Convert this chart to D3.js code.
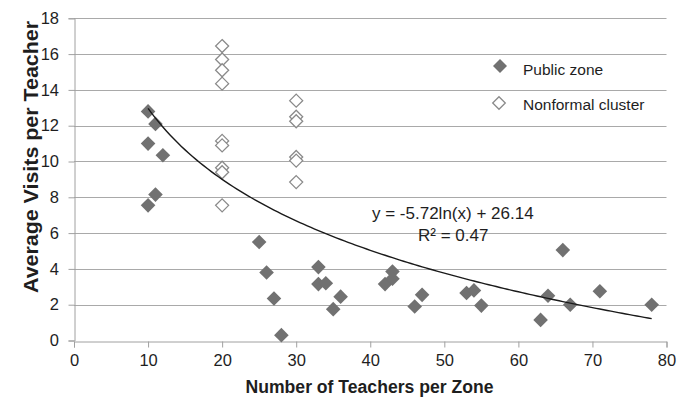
<!DOCTYPE html>
<html>
<head>
<meta charset="utf-8">
<script src="https://cdn.jsdelivr.net/npm/d3@7"></script>
<style>
  html, body { margin: 0; padding: 0; background: #fff; }
  svg { display: block; font-family: "Liberation Sans", Arial, sans-serif; }
</style>
</head>
<body>
<svg id="chart" width="686" height="397"></svg>
<script>
// ---- data ----
const publicX = [10, 11, 10, 12, 11, 10, 25, 26, 27, 28, 33, 33, 34, 36, 35, 42, 43, 43, 46, 47, 53, 54, 55, 63, 64, 66, 67, 71, 78];
const publicY = [12.8, 12.1, 11.0, 10.35, 8.15, 7.55, 5.5, 3.8, 2.35, 0.3, 4.1, 3.15, 3.2, 2.45, 1.75, 3.15, 3.85, 3.45, 1.9, 2.55, 2.65, 2.8, 1.95, 1.15, 2.5, 5.05, 2.0, 2.75, 2.0];
const nonformalX = [20, 20, 20, 20, 20, 20, 20, 20, 20, 30, 30, 30, 30, 30, 30];
const nonformalY = [16.45, 15.7, 15.1, 14.35, 11.15, 10.9, 9.65, 9.4, 7.55, 13.4, 12.5, 12.25, 10.25, 10.05, 8.85];
const xTicks = [0, 10, 20, 30, 40, 50, 60, 70, 80];
const yTicks = [0, 2, 4, 6, 8, 10, 12, 14, 16, 18];
const trendCoef = [-5.72, 26.14];   // y = a ln(x) + b
const trendRange = [10, 78];
const seriesNames = ["Public zone", "Nonformal cluster"];
const trendLabels = ["y = -5.72ln(x) + 26.14", "R\u00B2 = 0.47"];
const axisTitles = ["Number of Teachers per Zone", "Average Visits per Teacher"];

// ---- drawing ----
const svg = d3.select("#chart");
const x = d3.scaleLinear().domain([0, 80]).range([74, 666.5]);
const y = d3.scaleLinear().domain([0, 18]).range([340.5, 18.3]);

const gridColor = "#a9a9a9";
const axisColor = "#a0a0a0";
const textColor = "#1e1e1e";
const fam = "Liberation Sans, Arial, sans-serif";

// gridlines
svg.append("g").selectAll("line").data(yTicks.filter(d => d > 0)).join("line")
  .attr("x1", x(0)).attr("x2", x(80))
  .attr("y1", d => Math.round(y(d)) + 0.5).attr("y2", d => Math.round(y(d)) + 0.5)
  .attr("stroke", gridColor).attr("stroke-width", 1);

// y axis
const yAxis = d3.axisLeft(y).tickValues(yTicks).tickSize(6).tickPadding(9.5).tickFormat(d3.format("d"));
const gy = svg.append("g").attr("transform", `translate(${Math.round(x(0)) + 0.5},0)`).call(yAxis);
gy.select(".domain").attr("stroke", axisColor);
gy.selectAll(".tick line").attr("stroke", axisColor);
gy.selectAll(".tick text").attr("fill", textColor).style("font-size", "16.5px").style("font-family", fam);

// x axis
const xAxis = d3.axisBottom(x).tickValues(xTicks).tickSize(6).tickPadding(7).tickFormat(d3.format("d"));
const gx = svg.append("g").attr("transform", `translate(0,${Math.round(y(0)) + 0.5})`).call(xAxis);
gx.select(".domain").attr("stroke", axisColor);
gx.selectAll(".tick line").attr("stroke", axisColor);
gx.selectAll(".tick text").attr("fill", textColor).style("font-size", "16.5px").style("font-family", fam);

// axis titles
svg.append("text").attr("x", 369.5).attr("y", 393).attr("text-anchor", "middle")
  .attr("textLength", 248).attr("lengthAdjust", "spacingAndGlyphs")
  .attr("fill", textColor).style("font-size", "18px").style("font-weight", "bold")
  .text(axisTitles[0]);
svg.append("text").attr("transform", "translate(38,157) rotate(-90)").attr("text-anchor", "middle")
  .attr("textLength", 272).attr("lengthAdjust", "spacingAndGlyphs")
  .attr("fill", textColor).style("font-size", "20px").style("font-weight", "bold")
  .text(axisTitles[1]);

// diamond path
const diamond = r => `M0,${-r}L${r},0L0,${r}L${-r},0Z`;

// nonformal (open diamonds)
svg.append("g").selectAll("path").data(nonformalX.map((d, i) => [d, nonformalY[i]])).join("path")
  .attr("transform", d => `translate(${x(d[0])},${y(d[1])})`)
  .attr("d", diamond(6.5))
  .attr("fill", "#fff").attr("stroke", "#8a8a8a").attr("stroke-width", 1.3);

// public (filled diamonds)
svg.append("g").selectAll("path").data(publicX.map((d, i) => [d, publicY[i]])).join("path")
  .attr("transform", d => `translate(${x(d[0])},${y(d[1])})`)
  .attr("d", diamond(7.3))
  .attr("fill", "#717171");

// trend line (from the equation shown on the chart)
const trendXs = d3.range(trendRange[0], trendRange[1] + 0.001, 0.5);
const line = d3.line().x(d => x(d)).y(d => y(trendCoef[0] * Math.log(d) + trendCoef[1]));
svg.append("path").datum(trendXs).attr("d", line)
  .attr("fill", "none").attr("stroke", "#1a1a1a").attr("stroke-width", 1.4);

// trend labels
svg.append("text").attr("x", 372).attr("y", 219).attr("fill", textColor).style("font-size", "17px").text(trendLabels[0]);
svg.append("text").attr("x", 418).attr("y", 241).attr("fill", textColor).style("font-size", "17px").text(trendLabels[1]);

// legend
const lg = svg.append("g");
lg.append("path").attr("transform", "translate(500,66)").attr("d", diamond(7)).attr("fill", "#717171");
lg.append("text").attr("x", 523).attr("y", 75).attr("fill", textColor).style("font-size", "15.5px").text(seriesNames[0]);
lg.append("path").attr("transform", "translate(499,103)").attr("d", diamond(6.3))
  .attr("fill", "#fff").attr("stroke", "#8a8a8a").attr("stroke-width", 1.3);
lg.append("text").attr("x", 523).attr("y", 110).attr("fill", textColor).style("font-size", "15.5px").text(seriesNames[1]);
</script>
</body>
</html>
